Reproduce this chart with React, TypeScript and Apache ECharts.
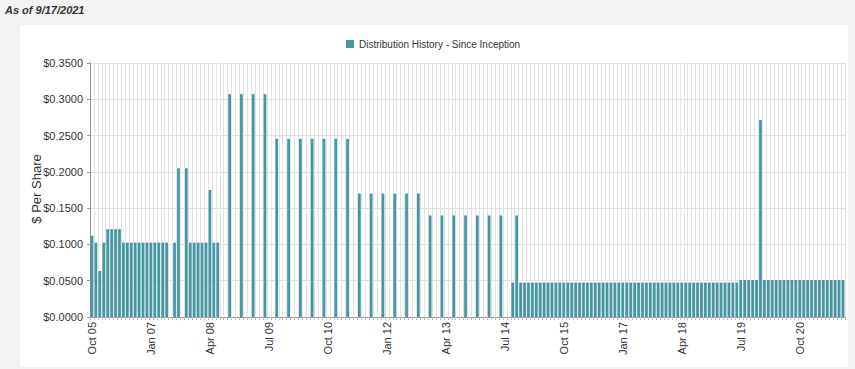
import React, { useEffect, useRef } from "react";
import * as echarts from "echarts";

const MONTHS = ["Jan", "Feb", "Mar", "Apr", "May", "Jun", "Jul", "Aug", "Sep", "Oct", "Nov", "Dec"];
const START_YEAR = 2005;
const START_MONTH = 9; // October
const MONTH_COUNT = 192; // Oct 05 .. Sep 21

const categories: string[] = [];
for (let i = 0; i < MONTH_COUNT; i++) {
  const m = (START_MONTH + i) % 12;
  const y = START_YEAR + Math.floor((START_MONTH + i) / 12);
  categories.push(MONTHS[m] + " " + String(y % 100).padStart(2, "0"));
}

const SERIES_NAME = "Distribution History - Since Inception";
const AS_OF = "As of 9/17/2021";
const Y_NAME = "$ Per Share";

// one row per Oct..Sep year
const distributions: (number | null)[] = [
  0.112, 0.1025, 0.0634, 0.1025, 0.121, 0.121, 0.121, 0.121, 0.1025, 0.1025, 0.1025, 0.1025,
  0.1025, 0.1025, 0.1025, 0.1025, 0.1025, 0.1025, 0.1025, 0.1025, null, 0.1025, 0.205, null,
  0.205, 0.1025, 0.1025, 0.1025, 0.1025, 0.1025, 0.175, 0.1025, 0.1025, null, null, 0.307,
  null, null, 0.307, null, null, 0.307, null, null, 0.307, null, null, 0.2455,
  null, null, 0.2455, null, null, 0.2455, null, null, 0.2455, null, null, 0.2455,
  null, null, 0.2455, null, null, 0.2455, null, null, 0.17, null, null, 0.17,
  null, null, 0.17, null, null, 0.17, null, null, 0.17, null, null, 0.17,
  null, null, 0.14, null, null, 0.14, null, null, 0.14, null, null, 0.14,
  null, null, 0.14, null, null, 0.14, null, null, 0.14, null, null, 0.0475,
  0.14, 0.0475, 0.0475, 0.0475, 0.0475, 0.0475, 0.0475, 0.0475, 0.0475, 0.0475, 0.0475, 0.0475,
  0.0475, 0.0475, 0.0475, 0.0475, 0.0475, 0.0475, 0.0475, 0.0475, 0.0475, 0.0475, 0.0475, 0.0475,
  0.0475, 0.0475, 0.0475, 0.0475, 0.0475, 0.0475, 0.0475, 0.0475, 0.0475, 0.0475, 0.0475, 0.0475,
  0.0475, 0.0475, 0.0475, 0.0475, 0.0475, 0.0475, 0.0475, 0.0475, 0.0475, 0.0475, 0.0475, 0.0475,
  0.0475, 0.0475, 0.0475, 0.0475, 0.0475, 0.0475, 0.0475, 0.0475, 0.0475, 0.051, 0.051, 0.051,
  0.051, 0.051, 0.2716, 0.051, 0.051, 0.051, 0.051, 0.051, 0.051, 0.051, 0.051, 0.051,
  0.051, 0.051, 0.051, 0.051, 0.051, 0.051, 0.051, 0.051, 0.051, 0.051, 0.051, 0.051,
];

const FONT = '"Liberation Sans", Arial, sans-serif';

export default function App() {
  const ref = useRef<HTMLDivElement>(null);
  useEffect(() => {
    if (!ref.current) return;
    const chart = echarts.init(ref.current, null, { renderer: "svg" });
    chart.setOption({
      animation: false,
      backgroundColor: "#f2f2f2",
      textStyle: { fontFamily: FONT },
      graphic: [
        {
          type: "rect",
          z: -10,
          shape: { x: 20, y: 25, width: 828, height: 342 },
          style: { fill: "#ffffff" },
        },
        {
          type: "text",
          x: 5,
          y: 4,
          style: {
            text: AS_OF,
            fill: "#333333",
            font: 'italic bold 11px "Liberation Sans", Arial, sans-serif',
          },
        },
        {
          type: "text",
          x: 36,
          y: 189,
          rotation: Math.PI / 2,
          style: {
            text: Y_NAME,
            fill: "#333333",
            font: '13px "Liberation Sans", Arial, sans-serif',
            align: "center",
            verticalAlign: "middle",
          },
        },
      ],
      legend: {
        data: [SERIES_NAME],
        left: 341,
        top: 34,
        icon: "rect",
        itemWidth: 8,
        itemHeight: 8,
        itemGap: 4,
        textStyle: { fontSize: 10, color: "#333333", fontFamily: FONT },
      },
      grid: { left: 90, right: 10, top: 63, bottom: 52, containLabel: false },
      xAxis: {
        type: "category",
        data: categories,
        boundaryGap: true,
        axisLine: { lineStyle: { color: "#999999", width: 1 } },
        axisTick: { show: true, interval: 0, length: 3, lineStyle: { color: "#bbbbbb" } },
        splitLine: { show: true, interval: 0, lineStyle: { color: "#e3e3e3", width: 1 } },
        axisLabel: {
          interval: 14,
          rotate: 90,
          fontSize: 11,
          color: "#333333",
          margin: 5,
          fontFamily: FONT,
        },
      },
      yAxis: {
        type: "value",
        min: 0,
        max: 0.35,
        interval: 0.05,
        axisLine: { show: true, lineStyle: { color: "#999999" } },
        axisTick: { show: true, length: 3, lineStyle: { color: "#999999" } },
        splitLine: { show: true, lineStyle: { color: "#e0e0e0" } },
        axisLabel: {
          fontSize: 11,
          color: "#333333",
          margin: 7,
          fontFamily: FONT,
          formatter: (v: number) => "$" + v.toFixed(4),
        },
      },
      series: [
        {
          name: SERIES_NAME,
          type: "bar",
          data: distributions,
          barCategoryGap: "30%",
          itemStyle: { color: "#4597a2" },
        },
      ],
    });
    return () => chart.dispose();
  }, []);
  return (
    <div
      ref={ref}
      style={{ position: "fixed", left: 0, top: 0, width: 855, height: 369 }}
    />
  );
}
